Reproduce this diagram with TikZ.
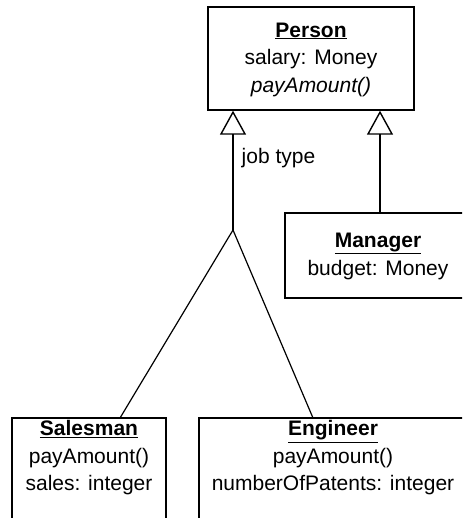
\documentclass[tikz,border=0pt]{standalone}
\usepackage{fontspec}
\setmainfont{Liberation Sans}
\usetikzlibrary{arrows.meta}
\begin{document}
\begin{tikzpicture}[x=1pt,y=1pt,
  classbox/.style={draw,line width=1.4pt,rectangle,inner sep=0pt},
  classtext/.style={align=center,inner sep=0pt,font=\fontsize{21}{27.5}\selectfont},
  gen/.style={line width=1.4pt,-{Triangle[width=26pt,length=24pt,fill=white,line width=1.4pt]}},
  assoc/.style={line width=1.2pt}]
\useasboundingbox (0,0) rectangle (462,-518);
\clip (0,0) rectangle (462,-518);
% Person
\node[classbox,minimum width=206pt,minimum height=103pt] (person) at (311,-58.5) {};
\node[classtext] (persontext) at (311,-59.5) {\underline{\textbf{Person}}\\salary: Money\\\textit{payAmount()}};
% Manager
\node[classbox,minimum width=186pt,minimum height=85pt] (manager) at (378,-255.5) {};
\node[classtext] (managertext) at (378,-256.5) {\underline{\textbf{Manager}}\\budget: Money};
% Salesman
\node[classbox,minimum width=154pt,minimum height=140pt] (salesman) at (89,-488) {};
\node[classtext] (salesmantext) at (89,-458) {\underline{\textbf{Salesman}}\\payAmount()\\sales: integer};
% Engineer
\node[classbox,minimum width=268pt,minimum height=140pt] (engineer) at (333,-488) {};
\node[classtext] (engineertext) at (333,-458) {\underline{\textbf{Engineer}}\\payAmount()\\numberOfPatents: integer};
% connectors
\coordinate (junction) at (233,-230);
\coordinate (mtop) at (380,-213);
\coordinate (stop) at (120,-418);
\coordinate (etop) at (313,-418);
\draw[gen] (junction) -- (junction |- person.south)
  node[pos=0.6,anchor=west,inner sep=0pt,xshift=8pt,classtext] (jobtype) {job type};
\draw[gen] (mtop) -- (mtop |- person.south);
\draw[assoc] (junction) -- (stop);
\draw[assoc] (junction) -- (etop);
\end{tikzpicture}
\end{document}
